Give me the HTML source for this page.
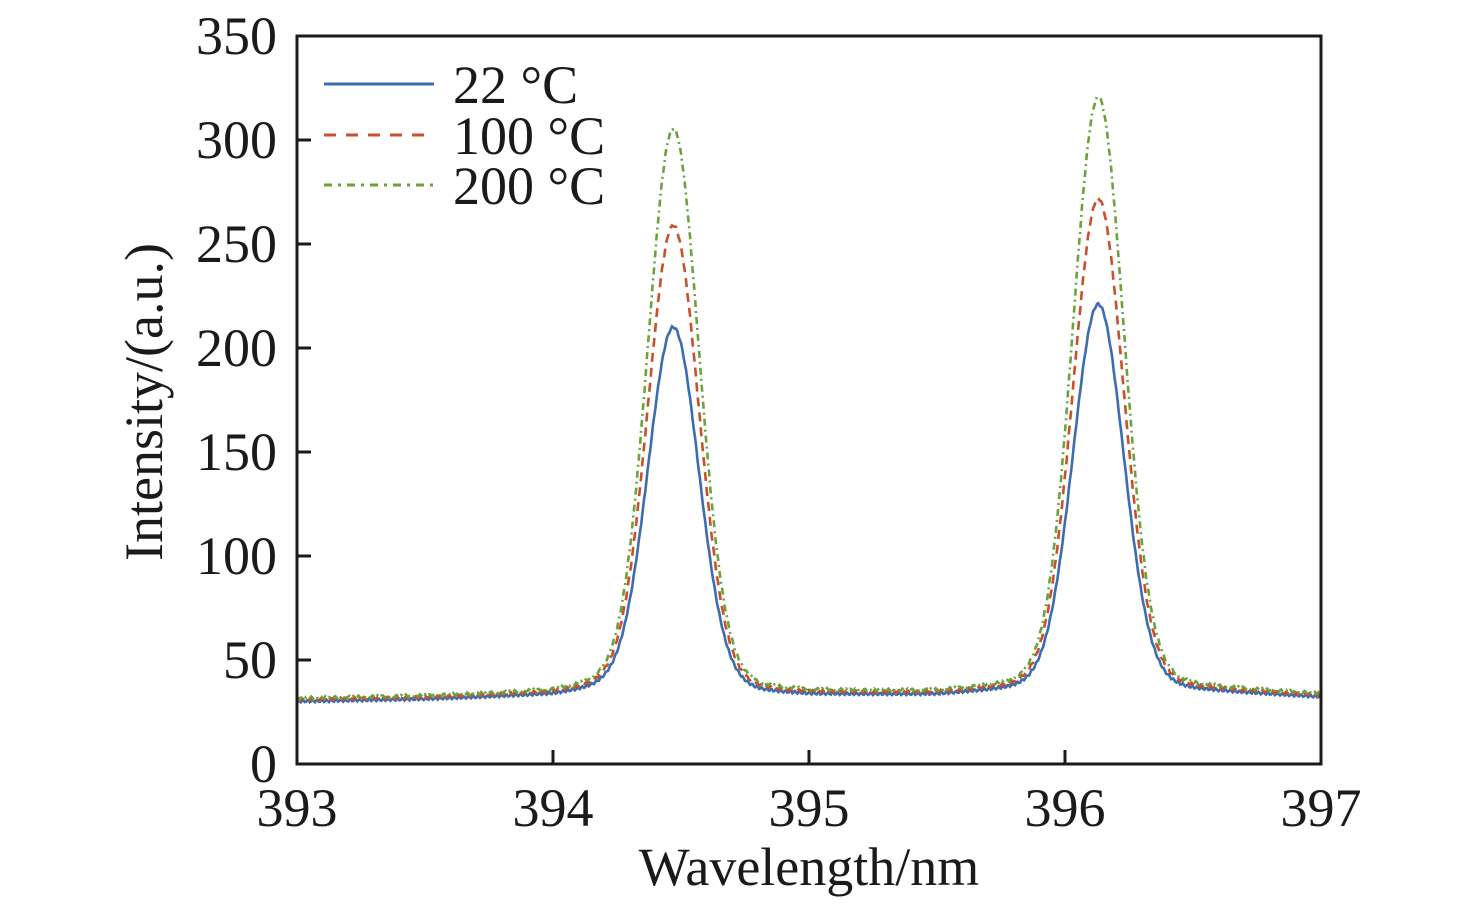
<!DOCTYPE html>
<html><head><meta charset="utf-8"><style>
html,body{margin:0;padding:0;background:#fff;}
svg text{font-family:"Liberation Serif",serif;fill:#1a1a1a;}
</style></head><body>
<svg id="s" width="1476" height="906" viewBox="0 0 1476 906" xmlns="http://www.w3.org/2000/svg">
<g id="curves"></g>
<rect x="297" y="36" width="1024" height="728" fill="none" stroke="#1a1a1a" stroke-width="3"/>
<g stroke="#1a1a1a" stroke-width="3">
<line x1="553" y1="764" x2="553" y2="750"/><line x1="809" y1="764" x2="809" y2="750"/><line x1="1065" y1="764" x2="1065" y2="750"/>
<line x1="297" y1="660" x2="311" y2="660"/><line x1="297" y1="556" x2="311" y2="556"/><line x1="297" y1="452" x2="311" y2="452"/>
<line x1="297" y1="348" x2="311" y2="348"/><line x1="297" y1="244" x2="311" y2="244"/><line x1="297" y1="140" x2="311" y2="140"/>
</g>
<g font-size="54" text-anchor="end">
<text x="277" y="782">0</text><text x="277" y="678">50</text><text x="277" y="574">100</text><text x="277" y="470">150</text>
<text x="277" y="366">200</text><text x="277" y="262">250</text><text x="277" y="158">300</text><text x="277" y="54">350</text>
</g>
<g font-size="54" text-anchor="middle">
<text x="297" y="826">393</text><text x="553" y="826">394</text><text x="809" y="826">395</text><text x="1065" y="826">396</text><text x="1321" y="826">397</text>
<text x="809" y="885">Wavelength/nm</text>
</g>
<text font-size="54" text-anchor="middle" transform="translate(162,402) rotate(-90)">Intensity/(a.u.)</text>
<line x1="324" y1="84" x2="434" y2="84" stroke="#3d6cb0" stroke-width="3"/>
<line x1="324" y1="135" x2="434" y2="135" stroke="#c9502a" stroke-width="3" stroke-dasharray="12,10"/>
<line x1="324" y1="185" x2="434" y2="185" stroke="#6aa33a" stroke-width="3" stroke-dasharray="8,6,3,6"/>
<g font-size="54"><text x="453" y="103">22 °C</text><text x="453" y="154">100 °C</text><text x="453" y="204">200 °C</text></g>
</svg>
<script>
function base(w){var pts=[[393,30],[393.5,31],[394,33],[394.2,36],[394.47,38],[394.8,34],[395,33],[395.5,33],[395.9,36],[396.13,38],[396.5,35],[397,32]];
for(var i=0;i<pts.length-1;i++){if(w>=pts[i][0]&&w<=pts[i+1][0]){var t=(w-pts[i][0])/(pts[i+1][0]-pts[i][0]);return pts[i][1]+t*(pts[i+1][1]-pts[i][1]);}}return 32;}
function pk(w,c,h){var d=w-c;return h*(0.9*Math.exp(-d*d/(2*0.1*0.1))+0.1/(1+(d/0.12)*(d/0.12)));}
var ser=[["#3d6cb0","",172,183,0],["#c9502a","9,6",220,233,0.8],["#6aa33a","7,4,2,4",266,281,1.5]];
var g=document.getElementById("curves"),html="";
ser.forEach(function(s){var d="";for(var i=0;i<=800;i++){var w=393+4*i/800;var v=base(w)+s[4]+pk(w,394.47,s[2])+pk(w,396.13,s[3])+Math.sin(i*1.7+s[4])*0.6;
var x=297+(w-393)*256,y=764-v*104/50;d+=(i?"L":"M")+x.toFixed(1)+","+y.toFixed(1);}
html+='<path d="'+d+'" fill="none" stroke="'+s[0]+'" stroke-width="2.6"'+(s[1]?' stroke-dasharray="'+s[1]+'"':'')+'/>';});
g.innerHTML=html;
</script>
</body></html>
